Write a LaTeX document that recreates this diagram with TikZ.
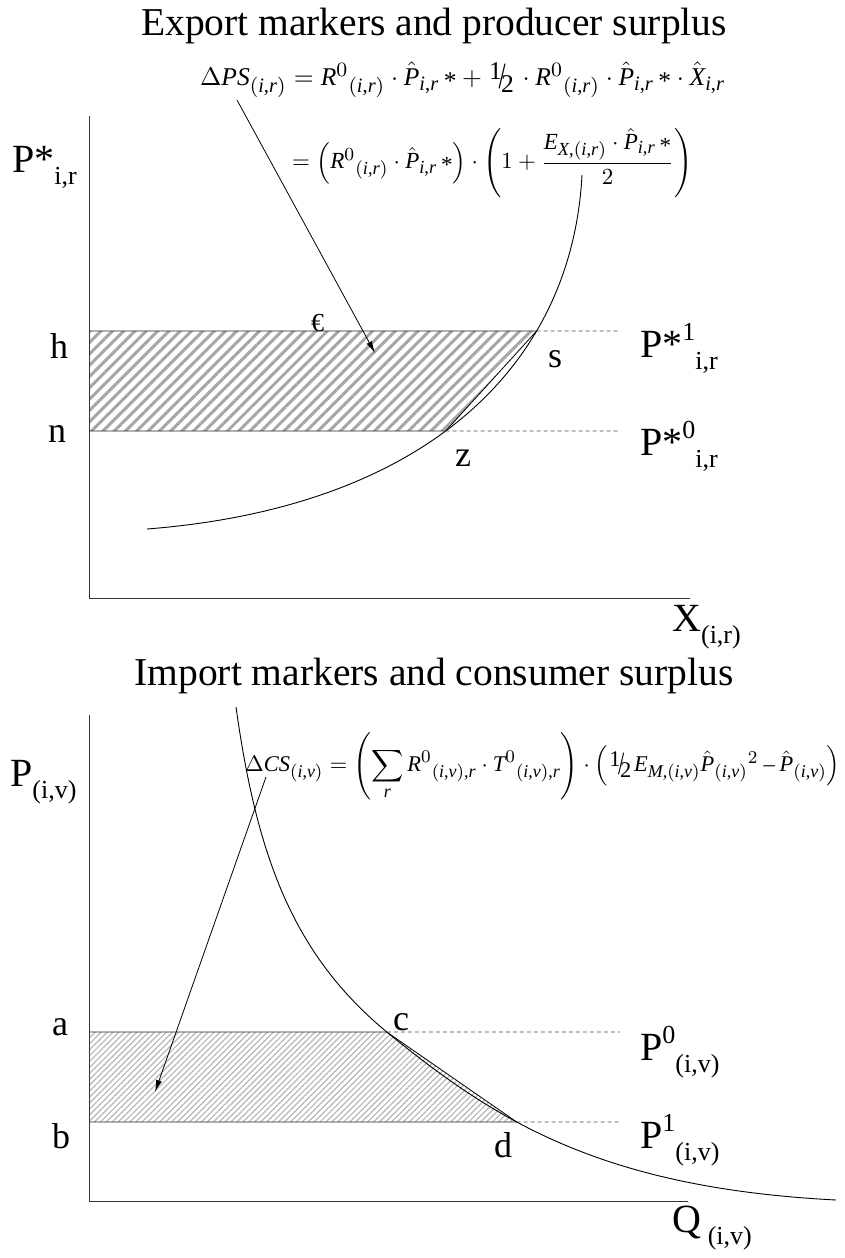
\documentclass[tikz,border=0pt]{standalone}
\usepackage{fontspec}
\setmainfont{Liberation Serif}
\usepackage{amsmath}
\usepackage[italic]{mathastext}
\usepackage{graphicx}
\usetikzlibrary{arrows.meta,patterns.meta,intersections}
\newcommand{\lowtxt}[1]{\raisebox{-0.32em}{\fontsize{26}{28}\selectfont #1}}
\newcommand{\hightxt}[1]{\raisebox{0.42em}{\fontsize{26}{28}\selectfont #1}}
\newcommand{\halfslash}{\mbox{\kern.05em\raisebox{.5ex}{1}\kern-.12em\raisebox{-.25ex}{\scalebox{1}[1.45]{/}}\kern-.18em\raisebox{-.6ex}{2}\kern.12em}}
\newcommand{\starmk}{\mbox{\raisebox{-0.35ex}{*}}}
\begin{document}
\begin{tikzpicture}[x=1pt,y=-1pt,
  axis/.style={line width=0.9pt, draw=black!80},
  solidguide/.style={line width=0.9pt, draw=black!85},
  guide/.style={dash pattern=on 4pt off 3pt, line width=0.8pt, draw=black!70},
  curve/.style={line width=0.9pt, draw=black},
  edge/.style={line width=0.8pt, draw=black},
  pointer/.style={line width=0.8pt, draw=black, -{Latex[length=12pt,width=6pt]}},
  title/.style={font=\fontsize{39.5}{44}\selectfont, inner sep=0, anchor=base},
  lbl/.style={font=\fontsize{36}{40}\selectfont, inner sep=0, anchor=base west},
  plbl/.style={font=\fontsize{40}{44}\selectfont, inner sep=0, anchor=base west},
  formula/.style={inner sep=0, anchor=north west},
  hatchA/.style={pattern={Lines[angle=45,distance=8pt,line width=3pt]}, pattern color=black!35},
  hatchB/.style={pattern={Lines[angle=45,distance=4.2pt,line width=1.2pt]}, pattern color=black!28}
]
\useasboundingbox (0,0) rectangle (844,1258);

% ---------------- TOP PANEL ----------------
\node[title] (t1) at (434,35) {Export markers and producer surplus};

\coordinate (o1) at (89,598);
\coordinate (ytop1) at (89,116);
\coordinate (xend1) at (690,598);
\coordinate (h) at (89,331);
\coordinate (n) at (89,431);
\coordinate (hend) at (620,331);
\coordinate (nend) at (620,431);

\path[name path=supply] (147,529) .. controls (427,507) and (572,365) .. (582,175);
\path[name path=hline] (h) -- (hend);
\path[name path=nline] (n) -- (nend);
\path[name intersections={of=supply and hline, by=s}];
\path[name intersections={of=supply and nline, by=z}];

\fill[white] (h) -- (s) -- (z) -- (n) -- cycle;
\fill[hatchA] (h) -- (s) -- (z) -- (n) -- cycle;
\draw[edge] (s) -- (z);
\draw[solidguide] (h) -- (s);
\draw[solidguide] (n) -- (z);
\draw[guide] (s) -- (hend);
\draw[guide] (z) -- (nend);
\draw[axis] (ytop1) -- (o1) -- (xend1);

\draw[curve] (147,529) .. controls (427,507) and (572,365) .. (582,175);

\node[formula] (dps) at (200,62) {\resizebox{525pt}{!}{$\Delta PS_{(i,r)} = R^{0}{}_{(i,r)}\cdot \hat{P}_{i,r}\,\starmk + \halfslash\cdot R^{0}{}_{(i,r)}\cdot \hat{P}_{i,r}\,\starmk\cdot \hat{X}_{i,r}$}};
\node[formula] (dps2) at (292,128) {\resizebox{400pt}{!}{$= \Bigl(R^{0}{}_{(i,r)}\cdot \hat{P}_{i,r}\,\starmk\Bigr)\cdot\left(1+\dfrac{E_{X,(i,r)}\cdot \hat{P}_{i,r}\,\starmk}{2}\right)$}};

\coordinate (dpsfoot) at (237,100);
\coordinate (psarea) at (375,353);
\draw[pointer] (dpsfoot) -- (psarea);

\node[plbl] (pyl) at (12,172) {P*\lowtxt{i,r}};
\node[plbl] (xl) at (672,631) {X\lowtxt{(i,r)}};
\node[lbl] (hl) at (50,358) {h};
\node[lbl] (nl) at (48,442) {n};
\node[lbl] (sl) at (548,367) {s};
\node[lbl] (zl) at (455,466) {z};
\node[font=\fontsize{26}{28}\selectfont, inner sep=0, anchor=base west] (eur) at (311,331) {€};
\node[plbl] (p1l) at (640,357) {P*\hightxt{1}\lowtxt{i,r}};
\node[plbl] (p0l) at (640,455) {P*\hightxt{0}\lowtxt{i,r}};

% ---------------- BOTTOM PANEL ----------------
\node[title] (t2) at (434,685) {Import markers and consumer surplus};

\coordinate (o2) at (89,1201);
\coordinate (ytop2) at (89,715);
\coordinate (xend2) at (688,1201);
\coordinate (a) at (89,1032);
\coordinate (b) at (89,1122);
\coordinate (aend) at (620,1032);
\coordinate (bend) at (620,1122);

\path[name path=demand] (236,707) .. controls (257,857) and (293,955) .. (388,1033) .. controls (498,1123) and (605,1188) .. (836,1200);
\path[name path=aline] (a) -- (aend);
\path[name path=bline] (b) -- (bend);
\path[name intersections={of=demand and aline, by=c}];
\path[name intersections={of=demand and bline, by=d}];

\fill[white] (a) -- (c) -- (d) -- (b) -- cycle;
\fill[hatchB] (a) -- (c) -- (d) -- (b) -- cycle;
\draw[edge] (c) -- (d);
\draw[solidguide] (a) -- (c);
\draw[solidguide] (b) -- (d);
\draw[guide] (c) -- (aend);
\draw[guide] (d) -- (bend);
\draw[axis] (ytop2) -- (o2) -- (xend2);

\draw[curve] (236,707) .. controls (257,857) and (293,955) .. (388,1033) .. controls (498,1123) and (605,1188) .. (836,1200);

\node[formula] (dcs) at (245,732) {\resizebox{595pt}{!}{$\Delta CS_{(i,v)} = \left(\displaystyle\sum_{r} R^{0}{}_{(i,v),r}\cdot T^{0}{}_{(i,v),r}\right)\cdot\Bigl(\halfslash E_{M,(i,v)}\hat{P}_{(i,v)}{}^{2} - \hat{P}_{(i,v)}\Bigr)$}};

\coordinate (dcsfoot) at (266,777);
\coordinate (csarea) at (155,1092);
\draw[pointer] (dcsfoot) -- (csarea);

\node[plbl] (pvl) at (10,786) {P\lowtxt{(i,v)}};
\node[plbl] (ql) at (672,1232) {Q\,\lowtxt{(i,v)}};
\node[lbl] (al) at (52,1035) {a};
\node[lbl] (bl) at (52,1148) {b};
\node[lbl] (cl) at (393,1030) {c};
\node[lbl] (dl) at (494,1157) {d};
\node[plbl] (p0v) at (640,1060) {P\hightxt{0}\lowtxt{(i,v)}};
\node[plbl] (p1v) at (640,1148) {P\hightxt{1}\lowtxt{(i,v)}};
\end{tikzpicture}
\end{document}
